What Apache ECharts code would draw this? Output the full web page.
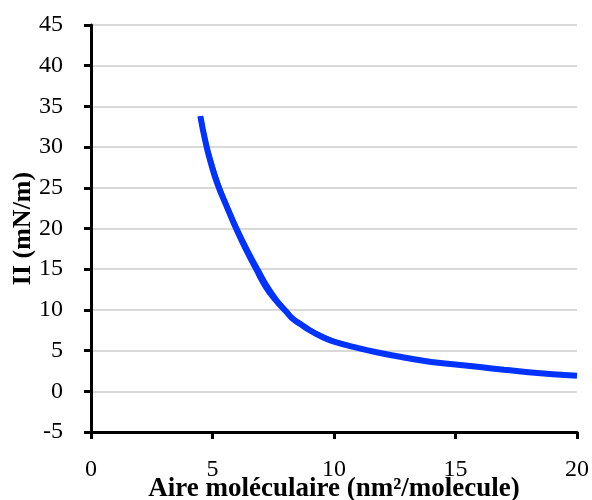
<!DOCTYPE html>
<html>
<head>
<meta charset="utf-8">
<script src="https://cdn.jsdelivr.net/npm/echarts@6/dist/echarts.min.js"></script>
<style>
html,body{margin:0;padding:0;background:#fff;}
#chart{width:592px;height:500px;}
</style>
</head>
<body>
<div id="chart"></div>
<script>
// compression isotherm (aire, pression)
var aireComp = [20, 19, 18, 17, 16, 15, 14, 13, 12, 11, 10, 9.5, 9, 8.6, 8.3, 8.0, 7.6, 7.2, 6.8, 6.4, 6.0, 5.6, 5.2, 4.9, 4.7, 4.5];
var pressComp = [1.9, 2.1, 2.35, 2.65, 2.98, 3.3, 3.6, 4.1, 4.65, 5.3, 6.1, 6.7, 7.5, 8.3, 8.9, 9.9, 11.2, 12.8, 15.0, 17.3, 19.8, 22.6, 25.5, 28.4, 30.8, 33.8];
// expansion (retour)
var aireExp = [4.5, 4.75, 5.0, 5.3, 5.7, 6.1, 6.5, 6.9, 7.3, 7.7, 8.1, 8.4, 8.7, 9.2, 10];
var pressExp = [33.8, 30.2, 27.6, 24.9, 22.0, 19.4, 17.0, 14.8, 12.7, 11.0, 9.6, 8.7, 8.1, 7.2, 6.1];

var yTicks = [-5, 45, 5];
var xTicks = [0, 20, 5];

function pairs(xs, ys){
	var out = [];
	for (var i = 0; i < xs.length; i++) {
		out.push([xs[i], ys[i]]);
	}
	return out;
}

var myChart = echarts.init(document.getElementById('chart'));
var font = 'Liberation Serif';
var option = {
	animation: false,
	grid: {left: 91, right: 15, top: 25, bottom: 68, containLabel: false, outerBoundsMode: 'none'},
	xAxis: {
		type: 'value',
		min: xTicks[0], max: xTicks[1], interval: xTicks[2],
		name: 'Aire moléculaire (nm²/molecule)',
		nameLocation: 'middle',
		nameGap: 44,
		nameMoveOverlap: false,
		nameTextStyle: {fontFamily: font, fontWeight: 'bold', fontSize: 27, color: '#000'},
		axisLine: {onZero: false, lineStyle: {color: '#000', width: 3}},
		axisTick: {show: true, length: 7, lineStyle: {color: '#000', width: 3}},
		axisLabel: {fontFamily: font, fontSize: 24, color: '#000', margin: 26},
		splitLine: {show: false}
	},
	yAxis: {
		type: 'value',
		min: yTicks[0], max: yTicks[1], interval: yTicks[2],
		name: 'II (mN/m)',
		nameLocation: 'middle',
		nameGap: 55,
		nameMoveOverlap: false,
		nameTextStyle: {fontFamily: font, fontWeight: 'bold', fontSize: 26, color: '#000'},
		axisLine: {onZero: false, lineStyle: {color: '#000', width: 3}},
		axisTick: {show: true, length: 7, lineStyle: {color: '#000', width: 3}},
		axisLabel: {fontFamily: font, fontSize: 24, color: '#000', margin: 28},
		splitLine: {show: true, lineStyle: {color: '#d9d9d9', width: 2}}
	},
	series: [
		{
			type: 'line',
			data: pairs(aireComp, pressComp),
			smooth: true,
			showSymbol: false,
			lineStyle: {color: '#0033ff', width: 6}
		},
		{
			type: 'line',
			data: pairs(aireExp, pressExp),
			smooth: true,
			showSymbol: false,
			lineStyle: {color: '#0033ff', width: 5}
		}
	]
};
myChart.setOption(option);
</script>
</body>
</html>
